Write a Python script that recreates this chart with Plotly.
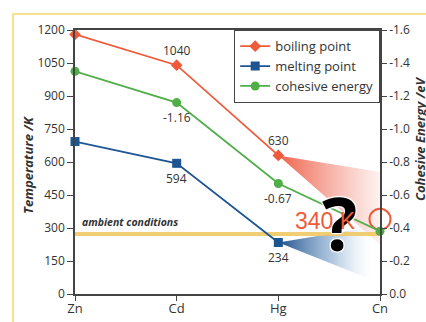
import plotly.graph_objects as go

# Group 12 elements
elements = ["Zn", "Cd", "Hg", "Cn"]
xpos = [0, 1, 2, 3]

# Temperatures in K (Zn, Cd, Hg)
boiling_point = [1180, 1040, 630]
melting_point = [693, 594, 234]
# Cohesive energy in eV (Zn, Cd, Hg, Cn)
cohesive_energy = [-1.35, -1.16, -0.67, -0.38]

# Predicted boiling point of Cn
cn_boiling = 340
# Ambient temperature
ambient_T = 273

# Spread of the extrapolated ranges toward Cn
boil_wedge_x = [2, 3, 3]
boil_wedge_y = [630, 555, 225]
melt_wedge_x = [2, 2.92, 2.92]
melt_wedge_y = [234, 305, 65]

left_ticks = [0, 150, 300, 450, 600, 750, 900, 1050, 1200]
right_ticks = [0.0, -0.2, -0.4, -0.6, -0.8, -1.0, -1.2, -1.4, -1.6]
right_ticktext = ["0.0", "-0.2", "-0.4", "-0.6", "-0.8", "-1.0", "-1.2", "-1.4", "-1.6"]

RED = "#ef5a3a"
BLUE = "#1d5593"
GREEN = "#4fae48"
AXIS = "#444444"
TXT = "#333333"
FONT = "Open Sans"

# plot area in pixels: x 75..380, y 30..294
def px_x(px):
    return (px - 75) / 305

def px_y(py):
    return (294 - py) / 264

fig = go.Figure()

# Extrapolation wedges with horizontal fade
fig.add_trace(go.Scatter(
    x=boil_wedge_x + [boil_wedge_x[0]], y=boil_wedge_y + [boil_wedge_y[0]],
    mode="lines", line=dict(width=0), fill="toself",
    fillgradient=dict(type="horizontal",
                      colorscale=[[0, "rgba(236,80,55,0.9)"], [1, "rgba(240,120,100,0.1)"]]),
    showlegend=False, hoverinfo="skip"))
fig.add_trace(go.Scatter(
    x=melt_wedge_x + [melt_wedge_x[0]], y=melt_wedge_y + [melt_wedge_y[0]],
    mode="lines", line=dict(width=0), fill="toself",
    fillgradient=dict(type="horizontal",
                      colorscale=[[0, "rgba(25,75,135,0.98)"], [0.6, "rgba(90,140,190,0.45)"],
                                  [1, "rgba(200,220,240,0.0)"]]),
    showlegend=False, hoverinfo="skip"))

# Ambient conditions line
fig.add_trace(go.Scatter(
    x=[0, 3], y=[ambient_T, ambient_T], mode="lines",
    line=dict(color="rgba(238,198,90,0.85)", width=4),
    showlegend=False, hoverinfo="skip"))

fig.add_trace(go.Scatter(
    x=xpos[:3], y=boiling_point, name="boiling point", mode="lines+markers",
    line=dict(color=RED, width=1.8), marker=dict(symbol="diamond", size=9, color=RED),
    cliponaxis=False))
fig.add_trace(go.Scatter(
    x=xpos[:3], y=melting_point, name="melting point", mode="lines+markers",
    line=dict(color=BLUE, width=1.8), marker=dict(symbol="square", size=9, color=BLUE),
    cliponaxis=False))
fig.add_trace(go.Scatter(
    x=xpos, y=cohesive_energy, name="cohesive energy", mode="lines+markers",
    line=dict(color=GREEN, width=1.8), marker=dict(symbol="circle", size=9, color=GREEN),
    yaxis="y2", cliponaxis=False))

# Predicted Cn boiling point
fig.add_trace(go.Scatter(
    x=[3], y=[cn_boiling], mode="markers",
    marker=dict(symbol="circle-open", size=21, color=RED, line=dict(width=2, color=RED)),
    showlegend=False, cliponaxis=False, hoverinfo="skip"))

annotations = []
# Value labels
for i in (1, 2):
    annotations.append(dict(x=xpos[i], y=boiling_point[i], text=str(boiling_point[i]),
                            yshift=15, showarrow=False, font=dict(size=12, color=TXT)))
    annotations.append(dict(x=xpos[i], y=melting_point[i], text=str(melting_point[i]),
                            yshift=-15, showarrow=False, font=dict(size=12, color=TXT)))
    annotations.append(dict(x=xpos[i], y=cohesive_energy[i], yref="y2",
                            text=f"{cohesive_energy[i]:.2f}",
                            yshift=-15, showarrow=False, font=dict(size=12, color=TXT)))

annotations.append(dict(x=0.05, y=ambient_T, text="<b><i>ambient conditions</i></b>",
                        xanchor="left", yanchor="bottom", yshift=3, showarrow=False,
                        font=dict(size=10.5, color=TXT)))
annotations.append(dict(x=2.6, y=326, text="<b>?</b>", showarrow=False,
                        xanchor="center", yanchor="middle",
                        font=dict(size=74, color="black", family=FONT,
                                  shadow="1px 1px 1px white, -1px -1px 1px white, 1px -1px 1px white, -1px 1px 1px white")))
annotations.append(dict(x=2.46, y=cn_boiling, text=f"{cn_boiling} K", showarrow=False,
                        xanchor="center", yanchor="middle", yshift=-2,
                        font=dict(size=23, color=RED, family="Liberation Sans")))

# Axis titles
annotations.append(dict(x=px_x(28), xref="paper", y=px_y(165), yref="paper",
                        xanchor="center", yanchor="middle",
                        text="<b><i>Temperature /K</i></b>", textangle=-90, showarrow=False,
                        font=dict(size=13, color=TXT)))
annotations.append(dict(x=px_x(420), xref="paper", y=px_y(139), yref="paper",
                        xanchor="center", yanchor="middle",
                        text="<b><i>Cohesive Energy /eV</i></b>", textangle=-90, showarrow=False,
                        font=dict(size=13, color=TXT)))

# Frame around the figure
shapes = [dict(type="rect", xref="paper", yref="paper",
               x0=px_x(13), x1=1.3, y0=-0.3, y1=px_y(14),
               line=dict(color="#f8e28f", width=2), layer="below")]

fig.update_layout(
    width=426, height=322,
    margin=dict(l=75, r=46, t=30, b=28),
    paper_bgcolor="white", plot_bgcolor="white",
    font=dict(family=FONT, size=12, color=TXT),
    annotations=annotations, shapes=shapes,
    xaxis=dict(range=[0, 3], tickvals=xpos, ticktext=elements, showgrid=False, zeroline=False,
               showline=True, linecolor=AXIS, linewidth=1.5, mirror=True, automargin=False,
               ticks="outside", ticklen=5, tickcolor=AXIS, ticklabelstandoff=-3,
               tickfont=dict(size=13, color=TXT)),
    yaxis=dict(range=[0, 1200], tickvals=left_ticks, showgrid=False, zeroline=False,
               showline=True, linecolor=AXIS, linewidth=1.5, mirror=False, automargin=False,
               ticks="outside", ticklen=6, tickcolor=AXIS, tickfont=dict(size=12, color=TXT)),
    yaxis2=dict(range=[0, -1.6], overlaying="y", side="right", tickvals=right_ticks,
                ticktext=right_ticktext, showgrid=False, zeroline=False, automargin=False,
                showline=True, linecolor=AXIS, linewidth=1.5,
                ticks="outside", ticklen=5, tickcolor=AXIS, tickfont=dict(size=12, color=TXT)),
    legend=dict(x=1, xanchor="right", y=1, yanchor="top", bgcolor="white",
                bordercolor=AXIS, borderwidth=1.2, font=dict(size=13, color=TXT),
                tracegroupgap=0, itemwidth=30),
    showlegend=True,
)

fig.write_html("out.html")
